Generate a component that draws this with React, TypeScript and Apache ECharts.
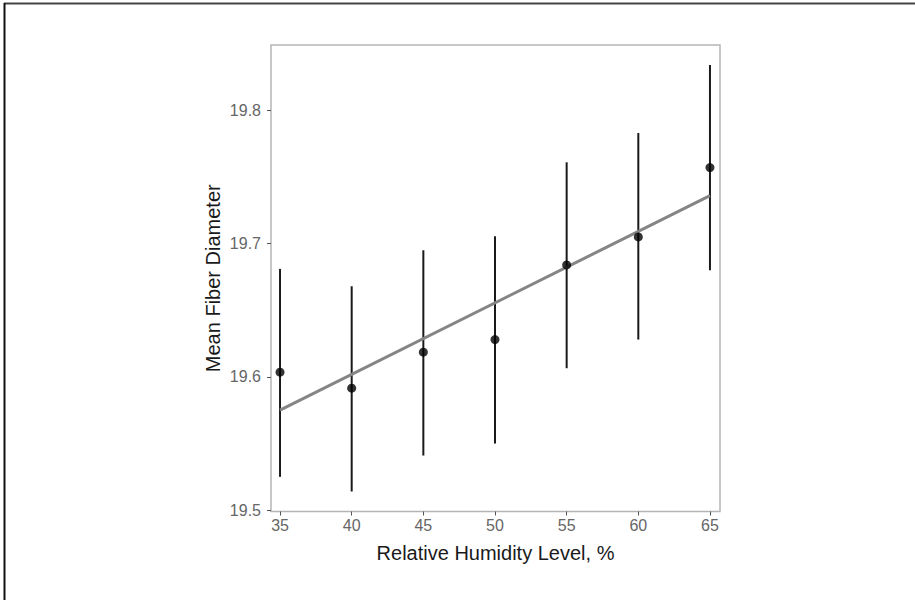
import React, { useEffect, useRef } from "react";
import * as echarts from "echarts";

const humidity = [35, 40, 45, 50, 55, 60, 65];
const meanDiameter = [19.6035, 19.5915, 19.6185, 19.628, 19.684, 19.705, 19.757];
const lowerBound = [19.525, 19.514, 19.541, 19.55, 19.6065, 19.628, 19.68];
const upperBound = [19.681, 19.668, 19.695, 19.7055, 19.761, 19.783, 19.834];
const fitLine: [number, number][] = [
  [35, 19.575],
  [65, 19.736],
];
const xTicks = [35, 40, 45, 50, 55, 60, 65];
const yTicks = [19.5, 19.6, 19.7, 19.8];

export default function App() {
  const ref = useRef<HTMLDivElement>(null);
  useEffect(() => {
    if (!ref.current) return;
    const chart = echarts.init(ref.current, undefined, { renderer: "svg" });
    const font = "'Liberation Sans', Arial, sans-serif";
    chart.setOption({
      animation: false,
      backgroundColor: "#ffffff",
      grid: {
        left: 271,
        right: 195,
        top: 45,
        bottom: 88.5,
        show: true,
        borderColor: "#b5b5b5",
        borderWidth: 1.5,
        backgroundColor: "transparent",
      },
      xAxis: {
        type: "value",
        min: 34.37,
        max: 65.7,
        name: "Relative Humidity Level, %",
        nameLocation: "middle",
        nameGap: 31,
        nameTextStyle: { fontFamily: font, fontSize: 20, color: "#1a1a1a" },
        axisLine: { show: false },
        splitLine: { show: false },
        axisTick: {
          show: true,
          length: 4,
          lineStyle: { color: "#555", width: 1 },
          customValues: xTicks,
        },
        axisLabel: {
          fontFamily: font,
          fontSize: 16,
          color: "#666",
          margin: 6,
          customValues: xTicks,
        },
      },
      yAxis: {
        type: "value",
        min: 19.499,
        max: 19.849,
        name: "Mean Fiber Diameter",
        nameLocation: "middle",
        nameGap: 48,
        nameTextStyle: { fontFamily: font, fontSize: 20, color: "#1a1a1a" },
        axisLine: { show: false },
        splitLine: { show: false },
        axisTick: {
          show: true,
          length: 4,
          lineStyle: { color: "#555", width: 1 },
          customValues: yTicks,
        },
        axisLabel: {
          fontFamily: font,
          fontSize: 16,
          color: "#666",
          margin: 10,
          customValues: yTicks,
          formatter: (v: number) => v.toFixed(1),
        },
      },
      graphic: [
        {
          type: "line",
          shape: { x1: 4, y1: 3.5, x2: 915, y2: 3.5 },
          style: { stroke: "#444", lineWidth: 2 },
        },
        {
          type: "line",
          shape: { x1: 4.5, y1: 3, x2: 4.5, y2: 600 },
          style: { stroke: "#111", lineWidth: 2 },
        },
      ],
      series: [
        {
          type: "custom",
          data: humidity.map((x, i) => [x, lowerBound[i], upperBound[i]]),
          renderItem: (params: any, api: any) => {
            const x = api.value(0);
            const p1 = api.coord([x, api.value(1)]);
            const p2 = api.coord([x, api.value(2)]);
            return {
              type: "line",
              shape: { x1: p1[0], y1: p1[1], x2: p2[0], y2: p2[1] },
              style: { stroke: "#1a1a1a", lineWidth: 2 },
            };
          },
          z: 2,
        },
        {
          type: "line",
          data: fitLine,
          symbol: "none",
          lineStyle: { color: "#858585", width: 3 },
          z: 3,
        },
        {
          type: "scatter",
          data: humidity.map((x, i) => [x, meanDiameter[i]]),
          symbol: "circle",
          symbolSize: 9,
          itemStyle: { color: "#000" },
          z: 4,
        },
      ],
    });
    return () => chart.dispose();
  }, []);
  return (
    <div
      ref={ref}
      style={{ position: "absolute", left: 0, top: 0, width: 915, height: 600 }}
    />
  );
}
